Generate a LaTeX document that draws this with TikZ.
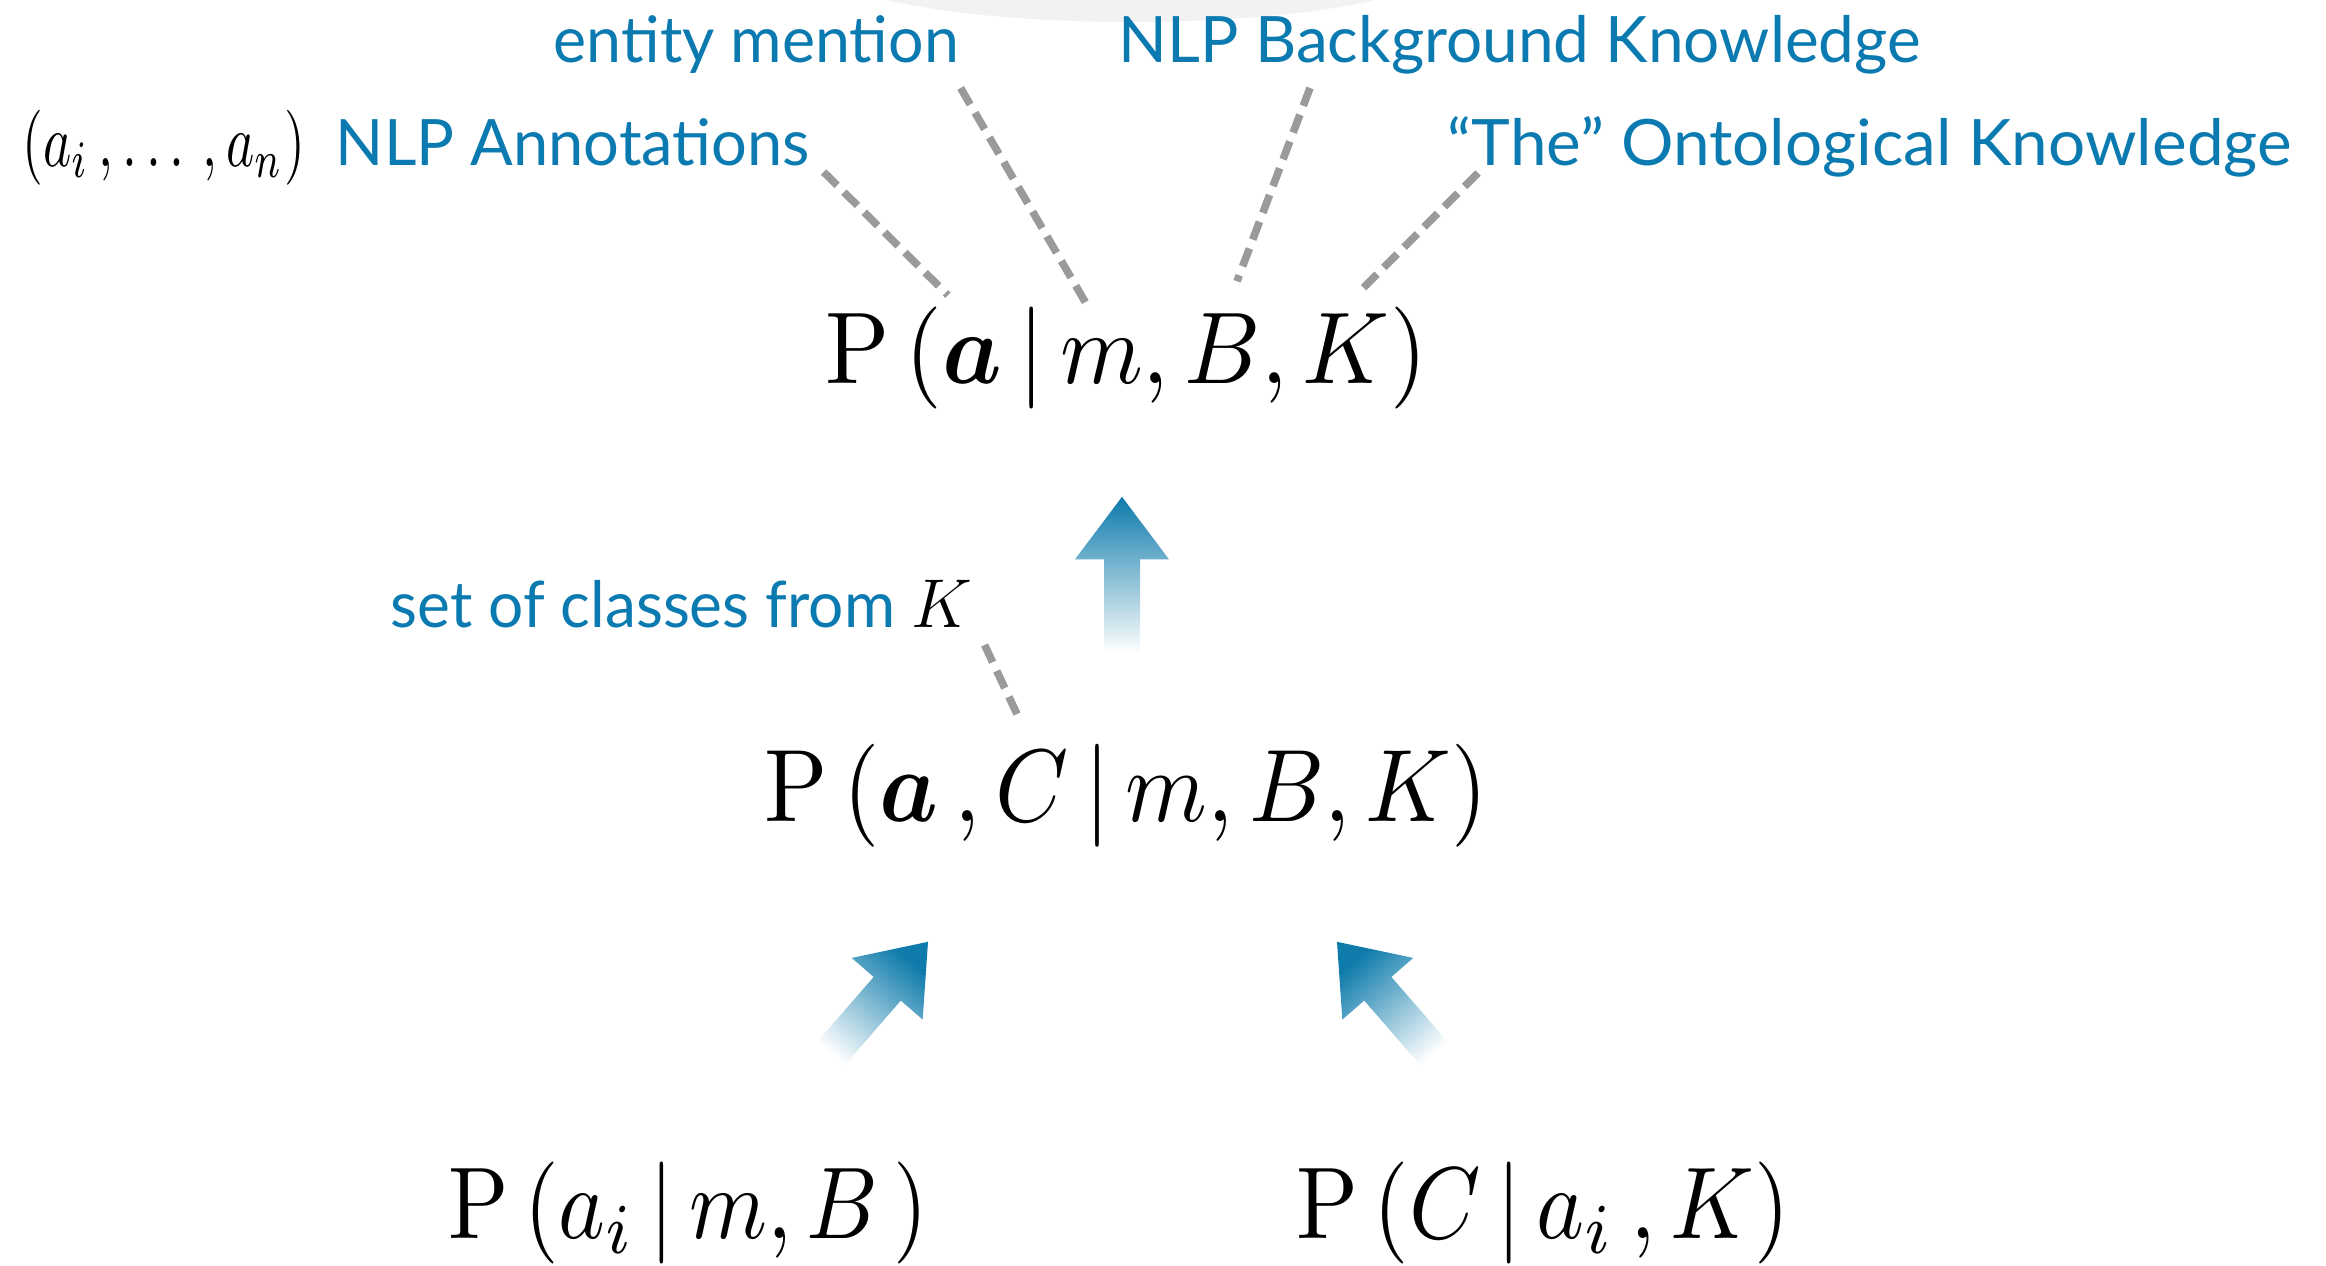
\documentclass[tikz,border=0pt]{standalone}
\usepackage{amsmath}
\usepackage{bm}
\usepackage{fontspec}
\newfontfamily\labelfont{Lato}
\usetikzlibrary{calc}
\definecolor{lblue}{HTML}{0A7AB0}
\definecolor{arrowblue}{HTML}{0E7BAB}
\definecolor{dashgray}{HTML}{9A9A9A}
\tikzset{
  lbl/.style={inner sep=0pt, anchor=base west, text=lblue, font=\labelfont\fontsize{16}{19}\selectfont},
  formula/.style={inner sep=0pt, anchor=west},
  dashline/.style={draw=dashgray, line width=1.9pt, dash pattern=on 4.75pt off 2.4pt},
  blockshade/.style={top color=arrowblue, bottom color=white, shading angle=#1},
}
\newcommand\blockarrow[3]{%
  \path ($(#1)!0.6!(#2)$) coordinate (neck);
  \shade[blockshade=#3]
    ($(#1)!4.5pt!90:(#2)$) -- ($(neck)!4.5pt!90:(#2)$) -- ($(neck)!11.75pt!90:(#2)$)
    -- (#2)
    -- ($(neck)!11.75pt!-90:(#2)$) -- ($(neck)!4.5pt!-90:(#2)$) -- ($(#1)!4.5pt!-90:(#2)$) -- cycle;
}
\begin{document}
\begin{tikzpicture}[x=0.25pt, y=-0.25pt]
\useasboundingbox (0,0) rectangle (2326,1265);
\fill[white] (0,0) rectangle (2326,1265);
\fill[black!5] (1131,-40) ellipse [x radius=320, y radius=62];

% labels
\node[lbl] (ent) at (553,62) {\resizebox{101.25pt}{\height}{entity mention}};
\node[lbl] (bg) at (1118,62) {\resizebox{200.5pt}{\height}{NLP Background Knowledge}};
\node[formula] (tuple) at (22,147.5) {\resizebox*{70.5pt}{18.75pt}{$(a_i\,, \ldots\,, a_n)$}};
\node[lbl] (annot) at (335,165) {\resizebox{118.5pt}{\height}{NLP Annotations}};
\node[lbl] (onto) at (1447,165) {\resizebox{211pt}{\height}{“The” Ontological Knowledge}};
\node[lbl] (cls) at (390,627) {\resizebox{145.25pt}{\height}{set of classes from \textcolor{black}{$K$}}};

% formulas
\node[formula] (f1) at (825,358) {\resizebox*{150.25pt}{25.5pt}{$\mathrm{P}\,(\bm{a}\,|\,m, B, K)$}};
\node[formula] (f2) at (764,795.5) {\resizebox*{180.75pt}{25.75pt}{$\mathrm{P}\,(\bm{a}\,,C\,|\,m, B, K)$}};
\node[formula] (f3) at (448,1213) {\resizebox*{119.75pt}{25.5pt}{$\mathrm{P}\,(a_i\,|\,m, B\,)$}};
\node[formula] (f4) at (1296,1213) {\resizebox*{123.25pt}{25.5pt}{$\mathrm{P}\,(C\,|\,a_i\,, K)$}};

% dashed connectors
\draw[dashline] ($(annot.base east)+(13,7)$) -- ($(f1.north west)+(123,-11)$);
\draw[dashline] ($(ent.base east)+(1,26)$) -- ($(f1.north west)+(265,4)$);
\draw[dashline] ($(bg.base west)+(192,26)$) -- ($(f1.north west)+(412,-25)$);
\draw[dashline] ($(onto.base west)+(31,8)$) -- ($(f1.north west)+(538,-18)$);
\draw[dashline] ($(cls.base east)+(12,18)$) -- ($(f2.north west)+(254,-27)$);

% block arrows
\coordinate (vT) at ($(f2.north west)+(358,-90)$);
\coordinate (vH) at ($(f1.south west)+(297,87)$);
\coordinate (lT) at ($(f3.north west)+(378,-102)$);
\coordinate (lH) at ($(f2.south west)+(164,94)$);
\coordinate (rT) at ($(f4.north west)+(143,-102)$);
\coordinate (rH) at ($(f2.south west)+(573,94)$);
\blockarrow{vT}{vH}{0}
\blockarrow{lT}{lH}{-40}
\blockarrow{rT}{rH}{41}
\end{tikzpicture}
\end{document}
